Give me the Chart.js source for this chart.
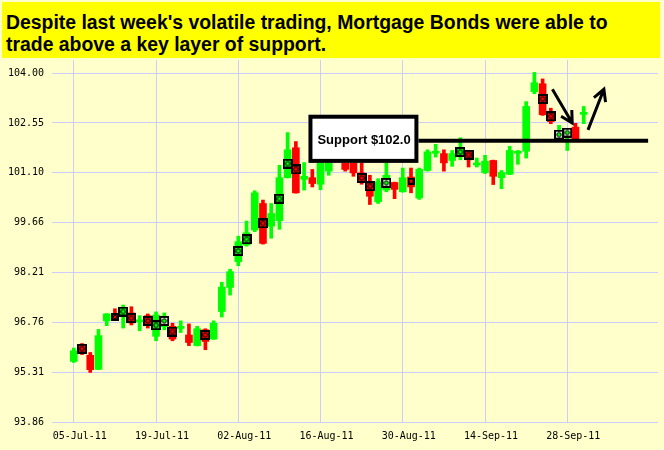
<!DOCTYPE html>
<html>
<head>
<meta charset="utf-8">
<script src="https://cdn.jsdelivr.net/npm/chart.js@4.4.0/dist/chart.umd.min.js"></script>
<style>
  body { margin: 0; background: #ffffcc; }
  #wrap { position: relative; width: 664px; height: 450px; }
  #title {
    position: absolute; left: 2px; top: 2px; width: 654px; height: 47px;
    padding: 9px 0 0 4px; background: #ffff00; color: #000; z-index: 2;
    font: bold 19.4px "Liberation Sans", Arial, sans-serif; line-height: 22px;
  }
</style>
</head>
<body>
<div id="wrap">
  <div id="title">Despite last week's volatile trading, Mortgage Bonds were able to<br>trade above a key layer of support.</div>
  <canvas id="chart"></canvas>
</div>
<script>
// trading days, 05-Jul-11 .. 30-Sep-11
const dates = [
  '05-Jul-11', '06-Jul-11', '07-Jul-11', '08-Jul-11',
  '11-Jul-11', '12-Jul-11', '13-Jul-11', '14-Jul-11', '15-Jul-11',
  '18-Jul-11', '19-Jul-11', '20-Jul-11', '21-Jul-11', '22-Jul-11',
  '25-Jul-11', '26-Jul-11', '27-Jul-11', '28-Jul-11', '29-Jul-11',
  '01-Aug-11', '02-Aug-11', '03-Aug-11', '04-Aug-11', '05-Aug-11',
  '08-Aug-11', '09-Aug-11', '10-Aug-11', '11-Aug-11', '12-Aug-11',
  '15-Aug-11', '16-Aug-11', '17-Aug-11', '18-Aug-11', '19-Aug-11',
  '22-Aug-11', '23-Aug-11', '24-Aug-11', '25-Aug-11', '26-Aug-11',
  '29-Aug-11', '30-Aug-11', '31-Aug-11', '01-Sep-11', '02-Sep-11',
  '06-Sep-11', '07-Sep-11', '08-Sep-11', '09-Sep-11',
  '12-Sep-11', '13-Sep-11', '14-Sep-11', '15-Sep-11', '16-Sep-11',
  '19-Sep-11', '20-Sep-11', '21-Sep-11', '22-Sep-11', '23-Sep-11',
  '26-Sep-11', '27-Sep-11', '28-Sep-11', '29-Sep-11', '30-Sep-11'
];

const open = [
  95.62, 96.05, 95.80, 95.39, 96.80, 96.97, 96.95, 97.03, 96.77, 96.95,
  96.35, 96.63, 96.64, 96.58, 96.39, 96.08, 96.54, 96.27, 97.07, 97.77,
  98.52, 99.00, 99.44, 100.21, 99.55, 99.71, 100.96, 101.83, 100.91, 100.96,
  100.77, 101.15, 101.90, 101.90, 101.75, 101.10, 100.84, 100.26, 100.60, 100.82,
  100.55, 100.98, 100.37, 101.17, 101.67, 101.66, 101.46, 101.61, 101.73, 101.33,
  101.11, 101.46, 100.96, 101.06, 101.67, 101.73, 103.46, 103.69, 102.86, 102.13,
  102.19, 102.43, 102.80
];
const high = [
  96.01, 96.14, 95.88, 96.55, 97.01, 97.15, 97.26, 97.21, 96.95, 97.00,
  97.06, 97.03, 96.73, 96.80, 96.71, 96.64, 96.57, 96.80, 97.92, 98.30,
  99.26, 99.70, 100.58, 100.31, 100.21, 101.32, 102.27, 102.01, 101.40, 101.20,
  101.81, 101.99, 102.04, 102.19, 102.04, 101.46, 101.03, 100.93, 101.40, 100.83,
  101.24, 101.24, 101.24, 101.77, 101.93, 101.77, 101.75, 102.12, 101.75, 101.53,
  101.61, 101.47, 101.17, 101.87, 101.75, 103.17, 104.02, 103.83, 102.98, 102.48,
  102.38, 102.54, 103.03
];
const low = [
  95.59, 95.82, 95.30, 95.38, 96.66, 96.83, 96.59, 96.68, 96.51, 96.59,
  96.22, 96.54, 96.22, 96.46, 96.08, 96.07, 95.96, 96.26, 96.91, 97.55,
  98.40, 98.97, 99.39, 99.03, 99.20, 99.46, 100.95, 100.51, 100.60, 100.69,
  100.61, 101.03, 101.52, 101.15, 101.00, 100.77, 100.18, 100.21, 100.55, 100.35,
  100.54, 100.52, 100.33, 101.15, 101.56, 101.15, 101.29, 101.48, 101.27, 101.27,
  101.08, 100.76, 100.64, 101.05, 101.35, 101.53, 103.40, 102.77, 102.53, 102.01,
  101.75, 102.08, 102.53
];
const close = [
  95.93, 95.87, 95.38, 96.37, 97.00, 96.86, 97.19, 96.74, 96.83, 96.66,
  96.97, 96.92, 96.27, 96.63, 96.17, 96.57, 96.20, 96.73, 97.78, 98.23,
  99.10, 99.36, 100.52, 99.05, 99.92, 100.96, 101.77, 100.52, 101.00, 100.79,
  101.61, 101.75, 101.61, 101.20, 101.10, 100.84, 100.42, 100.84, 101.03, 100.62,
  100.96, 100.69, 101.20, 101.71, 101.71, 101.39, 101.66, 101.80, 101.48, 101.38,
  101.44, 101.00, 101.11, 101.75, 101.71, 103.03, 103.72, 102.79, 102.59, 102.33,
  102.33, 102.09, 102.84
];

// boxed signal markers: candle index, price, kind
const markIdx = [1, 5, 6, 7, 9, 10, 11, 12, 16, 20, 21, 23, 25, 26, 27, 35, 36, 38, 41, 47, 48, 57, 58, 59, 60];
const markVal = [95.99, 96.91, 97.07, 96.88, 96.80, 96.67, 96.80, 96.49, 96.39, 98.83, 99.17, 99.63, 100.35,
                 101.37, 101.20, 100.95, 100.71, 100.81, 100.86, 101.71, 101.63, 103.25, 102.74, 102.21, 102.27];
const markType = ['r', 's', 'g', 'r', 'r', 'g', 'w', 'r', 'r', 'g', 'g', 'r', 'g', 'g', 'r', 'r', 'r', 'w', 'e',
                  'g', 'r', 'r', 'r', 'w', 'w'];

const yTicks = [93.86, 95.31, 96.76, 98.21, 99.66, 101.10, 102.55, 104.00];

const supportLevel = 102.03;
const supportLabel = 'Support $102.0';

const UP = '#00ff00', DOWN = '#ff0000', GRID = '#ccccff';

function makeMark(size, fill, dot) {
  const c = document.createElement('canvas');
  c.width = size; c.height = size;
  const g = c.getContext('2d');
  g.fillStyle = '#000';
  g.fillRect(0, 0, size, size);
  g.fillStyle = fill;
  g.fillRect(2, 2, size - 4, size - 4);
  if (dot) {
    g.beginPath();
    g.arc(size / 2, size / 2, size / 4.5, 0, Math.PI * 2);
    g.fillStyle = dot;
    g.fill();
    g.lineWidth = 1;
    g.strokeStyle = '#000';
    g.stroke();
  }
  return c;
}
const marks = {
  g: makeMark(10, UP, UP),
  r: makeMark(10, DOWN, DOWN),
  w: makeMark(10, '#ffffee', UP),
  s: makeMark(8, DOWN, DOWN),
  e: makeMark(7, DOWN, null)
};

const colors = close.map((c, i) => c >= open[i] ? UP : DOWN);

function arrow(ctx, x0, y0, x1, y1) {
  const a = Math.atan2(y1 - y0, x1 - x0), h = 13, w = 0.5;
  ctx.beginPath();
  ctx.moveTo(x0, y0);
  ctx.lineTo(x1, y1);
  ctx.moveTo(x1 - h * Math.cos(a - w), y1 - h * Math.sin(a - w));
  ctx.lineTo(x1, y1);
  ctx.lineTo(x1 - h * Math.cos(a + w), y1 - h * Math.sin(a + w));
  ctx.stroke();
}

// support box, line and arrows, in candle index / price units
const notes = {
  id: 'notes',
  afterDatasetsDraw(chart) {
    const { ctx, scales: { x, y } } = chart;
    const px = v => x.getPixelForValue(v), py = v => y.getPixelForValue(v);
    ctx.save();
    ctx.strokeStyle = '#000';
    ctx.lineWidth = 4;
    ctx.beginPath();
    ctx.moveTo(px(36), py(supportLevel));
    ctx.lineTo(px(69.83), py(supportLevel));
    ctx.stroke();

    const bx0 = px(28.53), bx1 = px(41.9), by0 = py(102.79), by1 = py(101.39);
    ctx.fillStyle = '#fff';
    ctx.fillRect(bx0, by0, bx1 - bx0, by1 - by0);
    ctx.strokeRect(bx0 + 2, by0 + 2, bx1 - bx0 - 4, by1 - by0 - 4);
    ctx.fillStyle = '#000';
    ctx.font = 'bold 13px "Liberation Sans", Arial, sans-serif';
    ctx.textBaseline = 'middle';
    ctx.fillText(supportLabel, bx0 + 9, py(supportLevel));

    ctx.lineWidth = 3;
    arrow(ctx, px(58.19), py(103.53), px(60.6), py(102.55));
    arrow(ctx, px(62.52), py(102.35), px(64.45), py(103.53));
    ctx.restore();
  }
};

Chart.defaults.font.family = '"DejaVu Sans Mono", monospace';
Chart.defaults.font.size = 10;
Chart.defaults.color = '#000';

new Chart(document.getElementById('chart'), {
  type: 'bar',
  data: {
    datasets: [
      {
        type: 'scatter',
        data: markIdx.map((i, k) => ({ x: i, y: markVal[k] })),
        pointStyle: markType.map(t => marks[t]),
        pointRadius: 5,
        order: 0
      },
      {
        data: dates.map((d, i) => ({ x: i, y: [open[i], close[i]] })),
        backgroundColor: colors,
        barThickness: 7,
        minBarLength: 2,
        grouped: false,
        order: 1
      },
      {
        data: dates.map((d, i) => ({ x: i, y: [low[i], high[i]] })),
        backgroundColor: colors,
        barThickness: 3,
        grouped: false,
        order: 2
      }
    ]
  },
  options: {
    responsive: true,
    maintainAspectRatio: false,
    animation: false,
    events: [],
    layout: { padding: { top: 60, right: 0, left: 0, bottom: 0 } },
    plugins: { legend: { display: false }, tooltip: { enabled: false } },
    scales: {
      x: {
        type: 'linear',
        offset: false,
        min: -2.65,
        max: 71.03,
        afterBuildTicks: s => { s.ticks = dates.map((d, i) => ({ value: i })).filter(t => t.value % 10 === 0); },
        afterFit: s => { s.height = 28; },
        grid: { color: GRID, drawTicks: false, offset: false },
        border: { display: false },
        ticks: { callback: v => dates[v], padding: 8, labelOffset: 6, maxRotation: 0, autoSkip: false }
      },
      y: {
        min: 93.86,
        max: 104.38,
        afterBuildTicks: s => { s.ticks = yTicks.map(v => ({ value: v })); },
        afterFit: s => { s.width = 52; },
        grid: { color: GRID, drawTicks: false },
        border: { display: false },
        ticks: { callback: v => v.toFixed(2), padding: 8 }
      }
    }
  },
  plugins: [notes]
});
</script>
</body>
</html>
